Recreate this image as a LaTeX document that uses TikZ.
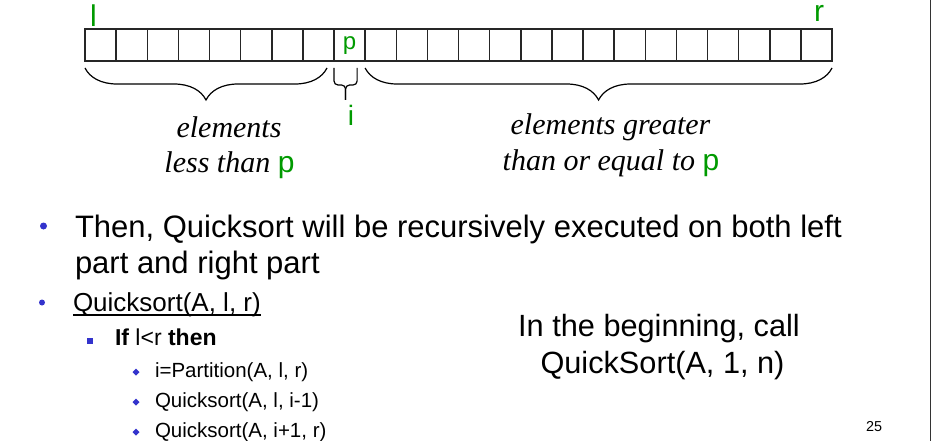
\documentclass[tikz,border=0pt]{standalone}
\usepackage{fontspec}
\setmainfont{Liberation Sans}
\newfontfamily\timesfont{Liberation Serif}
\usetikzlibrary{positioning, calc, decorations.pathreplacing, shapes.geometric}
\definecolor{qsgreen}{HTML}{009A00}
\definecolor{qsblue}{HTML}{3333CC}
\newcommand{\fsz}[1]{\fontsize{#1}{#1}\selectfont}

\begin{document}
\begin{tikzpicture}[x=1pt, y=-1pt,
    every node/.style={inner sep=0pt, outer sep=0pt},
    cell/.style={draw=black!85, line width=1.5pt, minimum width=31.125pt, minimum height=32pt},
    idx/.style={text=qsgreen, anchor=base},
    brc/.style={decorate, decoration={brace, mirror, amplitude=32pt}, line width=1.2pt},
    note/.style={anchor=base, font={\fsz{30}\timesfont\itshape}},
    txt/.style={anchor=base west},
    dot/.style={circle, fill=qsblue, minimum size=7pt},
    sqr/.style={rectangle, fill=qsblue, minimum size=6pt},
    dia/.style={diamond, fill=qsblue, minimum size=7pt},
  ]
  \useasboundingbox (0,0) rectangle (931,441);

  % Array
  \foreach \k in {1,...,24}
    \node[cell] (c\k) at ({85+31.125*(\k-0.5)}, 45) {};
  \node[idx, font=\fsz{30}] (lidx) at (93.5,26.5) {l};
  \node[idx, font=\fsz{30}] (ridx) at (819,22) {r};
  \node[idx, font=\fsz{24}] (pval) at (349.5,50) {p};

  % Braces
  \draw[brc] ($(c1.south west)+(0,7)$) -- ($(c8.south east)+(-7,7)$);
  \draw[brc] ($(c10.south west)+(0,7)$) -- ($(c24.south east)+(0,7)$);
  \coordinate (sbt) at ($(c9.south)+(-4,39)$);
  \draw[line width=1.2pt, rounded corners=4pt] ($(c9.south west)+(0,7)$) |- ($(sbt)+(0,-15)$) -- (sbt);
  \draw[line width=1.2pt, rounded corners=4pt] ($(c9.south east)+(-8,7)$) |- ($(sbt)+(0,-15)$) -- (sbt);
  \node[idx, font=\fsz{28}] (iidx) at (351,125) {i};

  % Brace labels
  \node[note] (lessa) at (229,137) {elements};
  \node[note] (lessb) at (229.5,172) {less than {\normalfont\color{qsgreen}p}};
  \node[note] (grta) at (610.5,135) {elements greater};
  \node[note] (grtb) at (611,170) {than or equal to {\normalfont\color{qsgreen}p}};

  % Bullets
  \node[dot] (b1) at (43.5,226) {};
  \node[txt, font=\fsz{31}] (t1a) at (75,237) {Then, Quicksort will be recursively executed on both left};
  \node[txt, font=\fsz{31}] (t1b) at (75,273) {part and right part};
  \node[dot, minimum size=6pt] (b2) at (42,302.5) {};
  \node[txt, font=\fsz{26}] (qs) at (73,311.5) {Quicksort(A, l, r)};
  \draw[line width=1.2pt] ($(qs.base west)+(0,3.5)$) -- ($(qs.base east)+(0,3.5)$);
  \node[sqr] (b3) at (89.5,341) {};
  \node[txt, font=\fsz{23}] (ifl) at (115,345) {\textbf{If} l<r \textbf{then}};
  \foreach \y/\t [count=\n] in {377/{i=Partition(A, l, r)}, 407/{Quicksort(A, l, i-1)}, 437/{Quicksort(A, i+1, r)}} {
    \node[dia] (d\n) at (136,\y-5) {};
    \node[txt, font=\fsz{20.5}] (s\n) at (155,\y) {\t};
  }

  % Initial call
  \node[anchor=base, font=\fsz{30.7}] (call1) at (659,336) {In the beginning, call};
  \node[anchor=base, font=\fsz{30.7}] (call2) at (662.5,373) {QuickSort(A, 1, n)};
  \node[txt, font=\fsz{14.4}] (pg) at (866,431) {25};
  \draw[black!80, line width=1pt] (930.5,0) -- (930.5,441);
\end{tikzpicture}
\end{document}
